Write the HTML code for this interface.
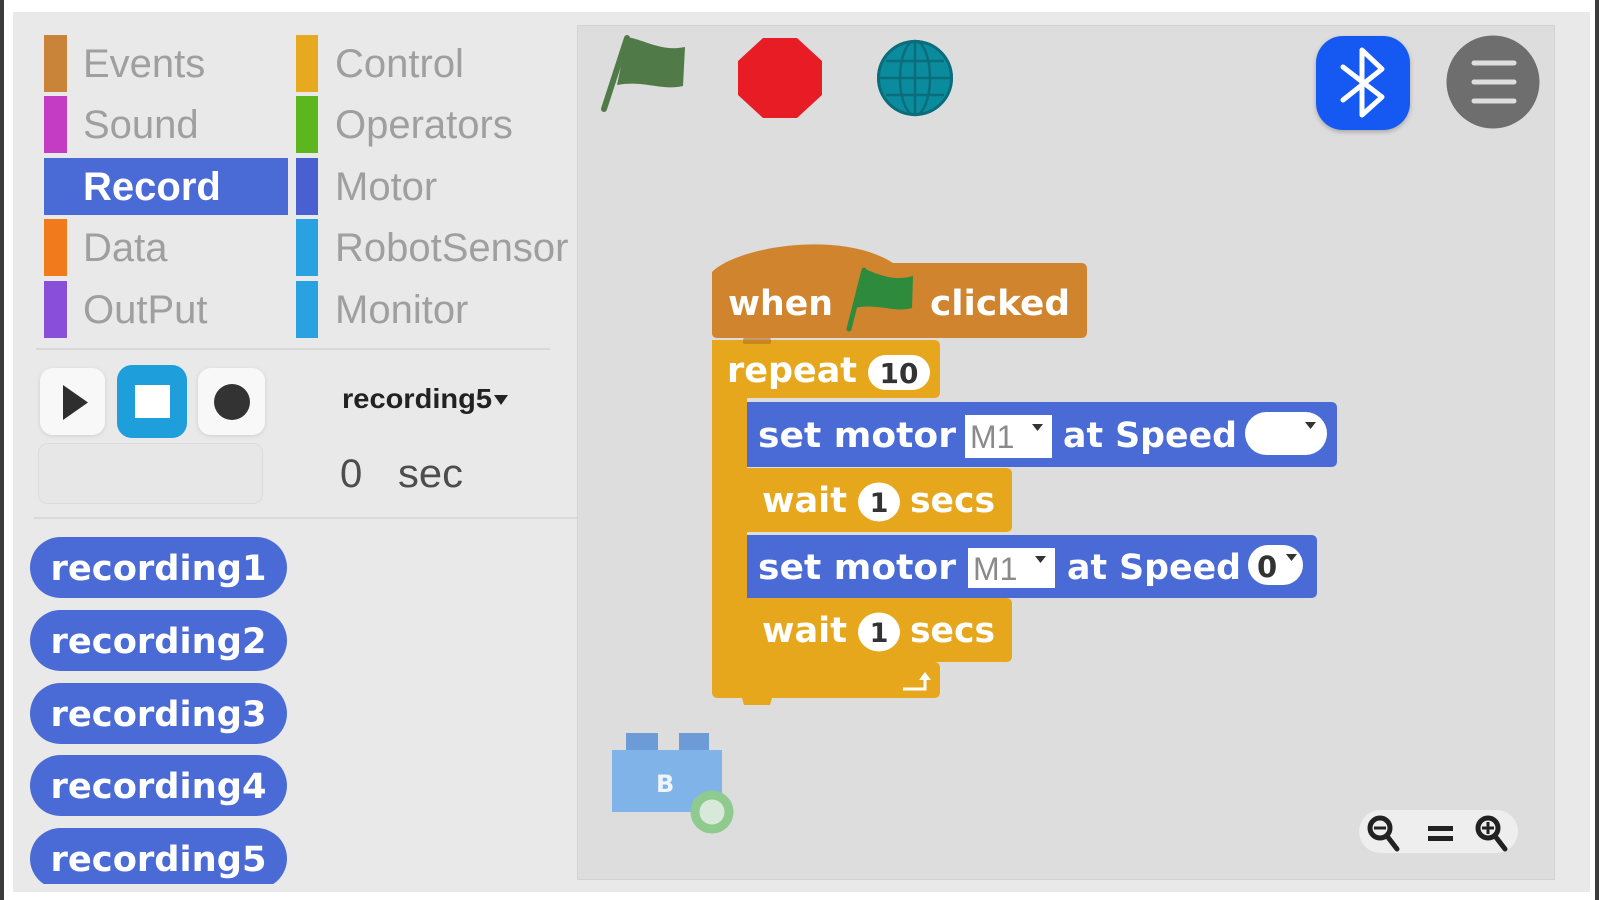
<!DOCTYPE html>
<html>
<head>
<meta charset="utf-8">
<style>
  html,body{margin:0;padding:0;background:#fff;}
  body{width:1599px;height:900px;overflow:hidden;}
  svg{display:block;}
  .cat{font-family:"Liberation Sans",Arial,sans-serif;font-size:40px;fill:#9f9f9f;}
  .blk{font-family:"DejaVu Sans","Liberation Sans",sans-serif;font-weight:bold;font-size:35px;fill:#ffffff;}
  .num{font-family:"DejaVu Sans","Liberation Sans",sans-serif;font-weight:bold;fill:#333;}
</style>
</head>
<body>
<svg width="1599" height="900" viewBox="0 0 1599 900" xmlns="http://www.w3.org/2000/svg">
  <defs>
    <filter id="sh" x="-20%" y="-20%" width="140%" height="150%">
      <feDropShadow dx="0" dy="2" stdDeviation="2.5" flood-color="#000" flood-opacity="0.25"/>
    </filter>
    <filter id="shl" x="-20%" y="-20%" width="140%" height="150%">
      <feDropShadow dx="0" dy="1" stdDeviation="2" flood-color="#000" flood-opacity="0.12"/>
    </filter>
    <clipPath id="pillclip"><rect x="0" y="520" width="570" height="364"/></clipPath>
  </defs>

  <!-- frame -->
  <rect x="0" y="0" width="1599" height="900" fill="#ffffff"/>
  <rect x="0" y="0" width="4" height="900" fill="#3c3c3c"/>
  <rect x="1595" y="0" width="4" height="900" fill="#3c3c3c"/>
  <rect x="13" y="12" width="1577" height="880" fill="#e9e9e9"/>

  <!-- script area -->
  <rect x="577.5" y="25.5" width="977" height="854" fill="#dddddd" stroke="#d2d2d2" stroke-width="1"/>

  <!-- categories left -->
  <rect x="44" y="35" width="23" height="57" fill="#c9843a"/>
  <text class="cat" x="83" y="77">Events</text>
  <rect x="44" y="96" width="23" height="57" fill="#c43cc4"/>
  <text class="cat" x="83" y="138">Sound</text>
  <rect x="44" y="158" width="244" height="57" fill="#4a6bd6"/>
  <text class="cat" x="83" y="200" style="fill:#fff;font-weight:bold">Record</text>
  <rect x="44" y="219" width="23" height="57" fill="#f07a1c"/>
  <text class="cat" x="83" y="261">Data</text>
  <rect x="44" y="281" width="23" height="57" fill="#8a4fd8"/>
  <text class="cat" x="83" y="323">OutPut</text>

  <!-- categories right -->
  <rect x="296" y="35" width="22" height="57" fill="#e6a91f"/>
  <text class="cat" x="335" y="77">Control</text>
  <rect x="296" y="96" width="22" height="57" fill="#5cb71e"/>
  <text class="cat" x="335" y="138">Operators</text>
  <rect x="296" y="158" width="22" height="57" fill="#4a5fd0"/>
  <text class="cat" x="335" y="200">Motor</text>
  <rect x="296" y="219" width="22" height="57" fill="#2aa2e2"/>
  <text class="cat" x="335" y="261">RobotSensor</text>
  <rect x="296" y="281" width="22" height="57" fill="#2aa2e2"/>
  <text class="cat" x="335" y="323">Monitor</text>

  <!-- separators -->
  <line x1="36" y1="349" x2="550" y2="349" stroke="#d8d8d8" stroke-width="2"/>
  <line x1="34" y1="518" x2="577" y2="518" stroke="#dadada" stroke-width="2"/>

  <!-- control buttons -->
  <rect x="40" y="368" width="65" height="67" rx="13" fill="#f8f8f8" filter="url(#shl)"/>
  <polygon points="63,385 88,402.5 63,420" fill="#2e2e2e"/>
  <rect x="117" y="365" width="70" height="73" rx="15" fill="#1e9fdc"/>
  <rect x="135" y="385" width="35" height="33" fill="#ffffff"/>
  <rect x="198" y="368" width="67" height="67" rx="13" fill="#f8f8f8" filter="url(#shl)"/>
  <circle cx="232" cy="402" r="18" fill="#333333"/>
  <rect x="38.5" y="443.5" width="224" height="60" rx="9" fill="#e7e7e7" stroke="#dcdcdc" stroke-width="1"/>

  <text x="342" y="408" style="font-family:'Liberation Sans',Arial,sans-serif;font-weight:bold;font-size:28px;fill:#222" textLength="150" lengthAdjust="spacingAndGlyphs">recording5</text>
  <polygon points="494,395 508,395 501,405" fill="#222"/>
  <text x="340" y="487" style="font-family:'Liberation Sans',Arial,sans-serif;font-size:40px;fill:#4d4d4d">0</text>
  <text x="398" y="487" style="font-family:'Liberation Sans',Arial,sans-serif;font-size:40px;fill:#4d4d4d" textLength="65" lengthAdjust="spacingAndGlyphs">sec</text>

  <!-- recording pills -->
  <g clip-path="url(#pillclip)">
    <rect x="30" y="537" width="257" height="61" rx="30.5" fill="#4a6bd6"/>
    <text class="blk" x="158.5" y="580" text-anchor="middle" textLength="216" lengthAdjust="spacingAndGlyphs">recording1</text>
    <rect x="30" y="610" width="257" height="61" rx="30.5" fill="#4a6bd6"/>
    <text class="blk" x="158.5" y="653" text-anchor="middle" textLength="216" lengthAdjust="spacingAndGlyphs">recording2</text>
    <rect x="30" y="683" width="257" height="61" rx="30.5" fill="#4a6bd6"/>
    <text class="blk" x="158.5" y="726" text-anchor="middle" textLength="216" lengthAdjust="spacingAndGlyphs">recording3</text>
    <rect x="30" y="755" width="257" height="61" rx="30.5" fill="#4a6bd6"/>
    <text class="blk" x="158.5" y="798" text-anchor="middle" textLength="216" lengthAdjust="spacingAndGlyphs">recording4</text>
    <rect x="30" y="828" width="257" height="61" rx="30.5" fill="#4a6bd6"/>
    <text class="blk" x="158.5" y="871" text-anchor="middle" textLength="216" lengthAdjust="spacingAndGlyphs">recording5</text>
  </g>

  <!-- top toolbar icons -->
  <line x1="604" y1="109" x2="627" y2="38" stroke="#507a48" stroke-width="6" stroke-linecap="round"/>
  <path d="M627,37 C645,40 662,52 685,47 L683,86 C662,91 645,80 617,85 Z" fill="#507a48"/>
  <polygon points="763,38 797,38 822,61 822,95 797,118 763,118 738,95 738,61" fill="#e81c24"/>
  <circle cx="915" cy="78" r="38" fill="#0b8c9e"/>
  <circle cx="915" cy="78" r="36.5" fill="none" stroke="#0a6d7b" stroke-width="3"/>
  <ellipse cx="915" cy="78" rx="15" ry="37" fill="none" stroke="#0a6d7b" stroke-width="2.5"/>
  <line x1="915" y1="41" x2="915" y2="115" stroke="#0a6d7b" stroke-width="2.5"/>
  <line x1="880" y1="78" x2="950" y2="78" stroke="#0a6d7b" stroke-width="2.5"/>
  <line x1="886" y1="61" x2="944" y2="61" stroke="#0a6d7b" stroke-width="2.5"/>
  <line x1="886" y1="95" x2="944" y2="95" stroke="#0a6d7b" stroke-width="2.5"/>

  <!-- bluetooth -->
  <rect x="1316" y="36" width="94" height="94" rx="27" fill="#1558f2" filter="url(#sh)"/>
  <polyline points="1343,67 1382,97 1362,115 1362,50 1382,69 1343,100" fill="none" stroke="#ffffff" stroke-width="5" stroke-linejoin="round" stroke-linecap="round"/>

  <!-- menu -->
  <circle cx="1493" cy="82" r="46.5" fill="#6e6e6e"/>
  <line x1="1474" y1="63" x2="1514" y2="63" stroke="#dedede" stroke-width="5" stroke-linecap="round"/>
  <line x1="1474" y1="82" x2="1514" y2="82" stroke="#dedede" stroke-width="5" stroke-linecap="round"/>
  <line x1="1474" y1="101" x2="1514" y2="101" stroke="#dedede" stroke-width="5" stroke-linecap="round"/>

  <!-- ===== script blocks ===== -->
  <!-- hat block -->
  <path d="M712,333 L712,272 C738,246 842,230 893,263 L1081,263 Q1087,263 1087,269 L1087,332 Q1087,338 1081,338 L718,338 Q712,338 712,333 Z" fill="#d1842e"/>
  <text class="blk" x="728" y="315" textLength="105" lengthAdjust="spacingAndGlyphs">when</text>
  <line x1="849" y1="329" x2="864" y2="270" stroke="#2e8b3e" stroke-width="5" stroke-linecap="round"/>
  <path d="M863,268 C880,276 896,281 913,276 L912,308 C895,313 878,303 854,308 Z" fill="#2e8b3e"/>
  <text class="blk" x="930" y="315" textLength="140" lengthAdjust="spacingAndGlyphs">clicked</text>

  <!-- repeat C block -->
  <path d="M712,340 L934,340 Q940,340 940,346 L940,392 Q940,398 934,398 L747,398 L747,662 L934,662 Q940,662 940,668 L940,692 Q940,698 934,698 L772,698 L770,705 L744,705 L742,698 L718,698 Q712,698 712,692 Z" fill="#e6a71c"/>
  <rect x="743" y="338" width="28" height="6" rx="2" fill="#b7701f" opacity="0.6"/>
  <text class="blk" x="727" y="382" textLength="130" lengthAdjust="spacingAndGlyphs">repeat</text>
  <rect x="868" y="355" width="62" height="35" rx="17.5" fill="#ffffff"/>
  <text class="num" x="899" y="383" text-anchor="middle" style="font-size:28px">10</text>
  <!-- loop arrow -->
  <path d="M903,689 L925,689 L925,678" fill="none" stroke="#ffffff" stroke-width="3"/>
  <polygon points="919,680 931,680 925,672" fill="#ffffff"/>

  <!-- set motor 1 -->
  <path d="M747,402 L1331,402 Q1337,402 1337,408 L1337,461 Q1337,467 1331,467 L747,467 Z" fill="#4a6bd6"/>
  <text class="blk" x="758" y="447" textLength="198" lengthAdjust="spacingAndGlyphs">set motor</text>
  <rect x="965" y="415" width="87" height="43" fill="#ffffff"/>
  <text x="970" y="448" style="font-family:'Liberation Sans',Arial,sans-serif;font-size:32px;fill:#8a8a8a">M1</text>
  <polygon points="1032,424 1043,424 1037.5,431" fill="#333"/>
  <text class="blk" x="1063" y="447" textLength="174" lengthAdjust="spacingAndGlyphs">at Speed</text>
  <rect x="1245" y="412" width="82" height="43" rx="21.5" fill="#ffffff"/>
  <polygon points="1305,422 1316,422 1310.5,429" fill="#333"/>

  <!-- wait 1 -->
  <path d="M747,468 L1006,468 Q1012,468 1012,474 L1012,526 Q1012,532 1006,532 L747,532 Z" fill="#e6a71c"/>
  <text class="blk" x="762" y="512" textLength="85" lengthAdjust="spacingAndGlyphs">wait</text>
  <ellipse cx="879" cy="502" rx="21" ry="19.5" fill="#ffffff"/>
  <text class="num" x="879" y="512" text-anchor="middle" style="font-size:27px">1</text>
  <text class="blk" x="910" y="512" textLength="85" lengthAdjust="spacingAndGlyphs">secs</text>

  <!-- set motor 2 -->
  <path d="M747,535 L1311,535 Q1317,535 1317,541 L1317,592 Q1317,598 1311,598 L747,598 Z" fill="#4a6bd6"/>
  <text class="blk" x="758" y="579" textLength="198" lengthAdjust="spacingAndGlyphs">set motor</text>
  <rect x="968" y="548" width="87" height="40" fill="#ffffff"/>
  <text x="973" y="580" style="font-family:'Liberation Sans',Arial,sans-serif;font-size:32px;fill:#8a8a8a">M1</text>
  <polygon points="1035,556 1046,556 1040.5,563" fill="#333"/>
  <text class="blk" x="1067" y="579" textLength="174" lengthAdjust="spacingAndGlyphs">at Speed</text>
  <rect x="1248" y="545" width="55" height="40" rx="20" fill="#ffffff"/>
  <text class="num" x="1257" y="577" style="font-size:29px">0</text>
  <polygon points="1286,554 1297,554 1291.5,561" fill="#333"/>

  <!-- wait 2 -->
  <path d="M747,598 L1006,598 Q1012,598 1012,604 L1012,656 Q1012,662 1006,662 L747,662 Z" fill="#e6a71c"/>
  <text class="blk" x="762" y="642" textLength="85" lengthAdjust="spacingAndGlyphs">wait</text>
  <ellipse cx="879" cy="632" rx="21" ry="19.5" fill="#ffffff"/>
  <text class="num" x="879" y="642" text-anchor="middle" style="font-size:27px">1</text>
  <text class="blk" x="910" y="642" textLength="85" lengthAdjust="spacingAndGlyphs">secs</text>

  <!-- sprite icon -->
  <rect x="626" y="733" width="32" height="19" fill="#6c9bd8"/>
  <rect x="679" y="733" width="30" height="19" fill="#6c9bd8"/>
  <rect x="612" y="750" width="110" height="62" fill="#80b4e8"/>
  <text x="656" y="792" style="font-family:'DejaVu Sans',sans-serif;font-weight:bold;font-size:24px;fill:#eef5ff">B</text>
  <circle cx="712" cy="812" r="17" fill="#d9e9d9" stroke="#8fca8f" stroke-width="9"/>

  <!-- zoom controls -->
  <rect x="1359" y="810" width="159" height="43" rx="21.5" fill="#f1f1f1" opacity="0.85"/>
  <circle cx="1380" cy="828" r="10" fill="none" stroke="#222" stroke-width="5"/>
  <line x1="1374" y1="828" x2="1386" y2="828" stroke="#222" stroke-width="3"/>
  <line x1="1387" y1="836" x2="1397" y2="849" stroke="#222" stroke-width="5" stroke-linecap="round"/>
  <rect x="1428" y="826" width="25" height="5" fill="#222"/>
  <rect x="1428" y="836" width="25" height="5" fill="#222"/>
  <circle cx="1488" cy="828" r="10" fill="none" stroke="#222" stroke-width="5"/>
  <line x1="1482" y1="828" x2="1494" y2="828" stroke="#222" stroke-width="3"/>
  <line x1="1488" y1="822" x2="1488" y2="834" stroke="#222" stroke-width="3"/>
  <line x1="1495" y1="836" x2="1505" y2="849" stroke="#222" stroke-width="5" stroke-linecap="round"/>
</svg>
</body>
</html>
